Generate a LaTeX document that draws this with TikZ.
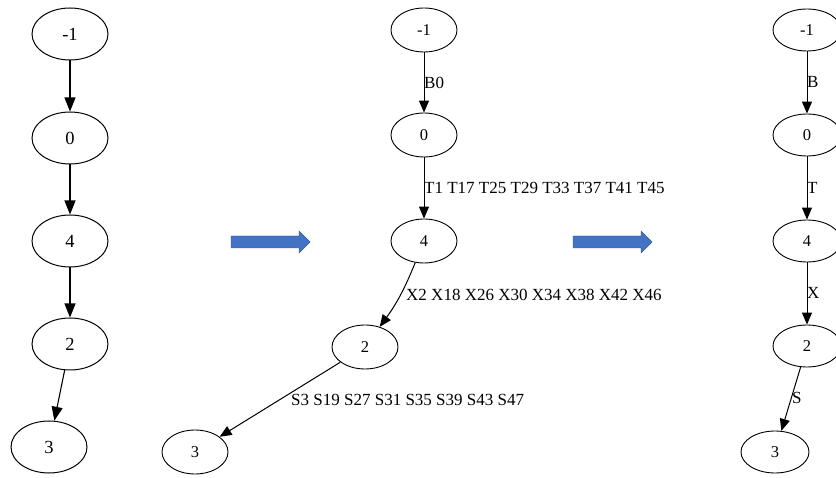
\documentclass[tikz,border=0pt]{standalone}
\usepackage{fontspec}
\setmainfont{Liberation Serif}
\usetikzlibrary{shapes.geometric,arrows.meta}
\definecolor{arrblue}{RGB}{68,114,196}
\definecolor{arrline}{RGB}{52,90,160}
\begin{document}
\begin{tikzpicture}[x=1pt,y=-1pt,
  bignode/.style={ellipse,draw,line width=1pt,minimum width=76pt,minimum height=52pt,inner sep=0pt,font=\fontsize{18.5}{18.5}\selectfont},
  midnode/.style={ellipse,draw,line width=0.9pt,minimum width=66pt,minimum height=44pt,inner sep=0pt,font=\fontsize{16.5}{16.5}\selectfont},
  rnode/.style={ellipse,draw,line width=0.9pt,minimum width=68pt,minimum height=42pt,inner sep=0pt,font=\fontsize{16.5}{16.5}\selectfont},
  edge/.style={draw,line width=1pt,-{Triangle[length=12pt,width=10pt]}},
  bigedge/.style={draw,line width=1.1pt,-{Triangle[length=14pt,width=11pt]}},
  elab/.style={anchor=west,inner sep=0pt,font=\fontsize{17}{17}\selectfont},
  bluearrow/.style={fill=arrblue,draw=arrline,line width=0.4pt}
]
\useasboundingbox (0,0) rectangle (836,478);
\clip (0,0) rectangle (836,478);
% left graph
\node[bignode] (a1) at (70,34) {-1};
\node[bignode] (a0) at (70,138) {0};
\node[bignode] (a4) at (70,241) {4};
\node[bignode] (a2) at (70,344) {2};
\node[bignode] (a3) at (49,447) {3};
\draw[bigedge] (a1) -- (a0);
\draw[bigedge] (a0) -- (a4);
\draw[bigedge] (a4) -- (a2);
\draw[bigedge] (a2) -- (a3);
% middle graph
\node[midnode] (b1) at (424,30) {-1};
\node[midnode] (b0) at (424,135) {0};
\node[midnode] (b4) at (424,241) {4};
\node[midnode] (b2) at (365,347) {2};
\node[midnode] (b3) at (195,452) {3};
\draw[edge] (b1) -- (b0);
\draw[edge] (b0) -- (b4);
\draw[edge] (b4) to[bend left=7] (b2);
\draw[edge] (b2) -- (b3);
\node[elab] (lb0) at (424,83) {B0};
\node[elab] (lt) at (424,188) {T1 T17 T25 T29 T33 T37 T41 T45};
\node[elab] (lx) at (406,295) {X2 X18 X26 X30 X34 X38 X42 X46};
\node[elab] (ls) at (291,400) {S3 S19 S27 S31 S35 S39 S43 S47};
% right graph
\node[rnode] (c1) at (807,30) {-1};
\node[rnode] (c0) at (807,135) {0};
\node[rnode] (c4) at (807,241) {4};
\node[rnode] (c2) at (807,346) {2};
\node[rnode] (c3) at (775,452) {3};
\draw[edge] (c1) -- (c0);
\draw[edge] (c0) -- (c4);
\draw[edge] (c4) -- (c2);
\draw[edge] (c2) -- (c3);
\node[elab] (lB) at (807,82) {B};
\node[elab] (lT) at (807,188) {T};
\node[elab] (lX) at (807,293) {X};
\node[elab] (lS) at (792,398) {S};
% blue arrows
\draw[bluearrow] (231,236) -- (299,236) -- (299,231) -- (310,242) -- (299,253) -- (299,248) -- (231,248) -- cycle;
\draw[bluearrow] (573,236) -- (641,236) -- (641,231) -- (652,242) -- (641,253) -- (641,248) -- (573,248) -- cycle;
\end{tikzpicture}
\end{document}
